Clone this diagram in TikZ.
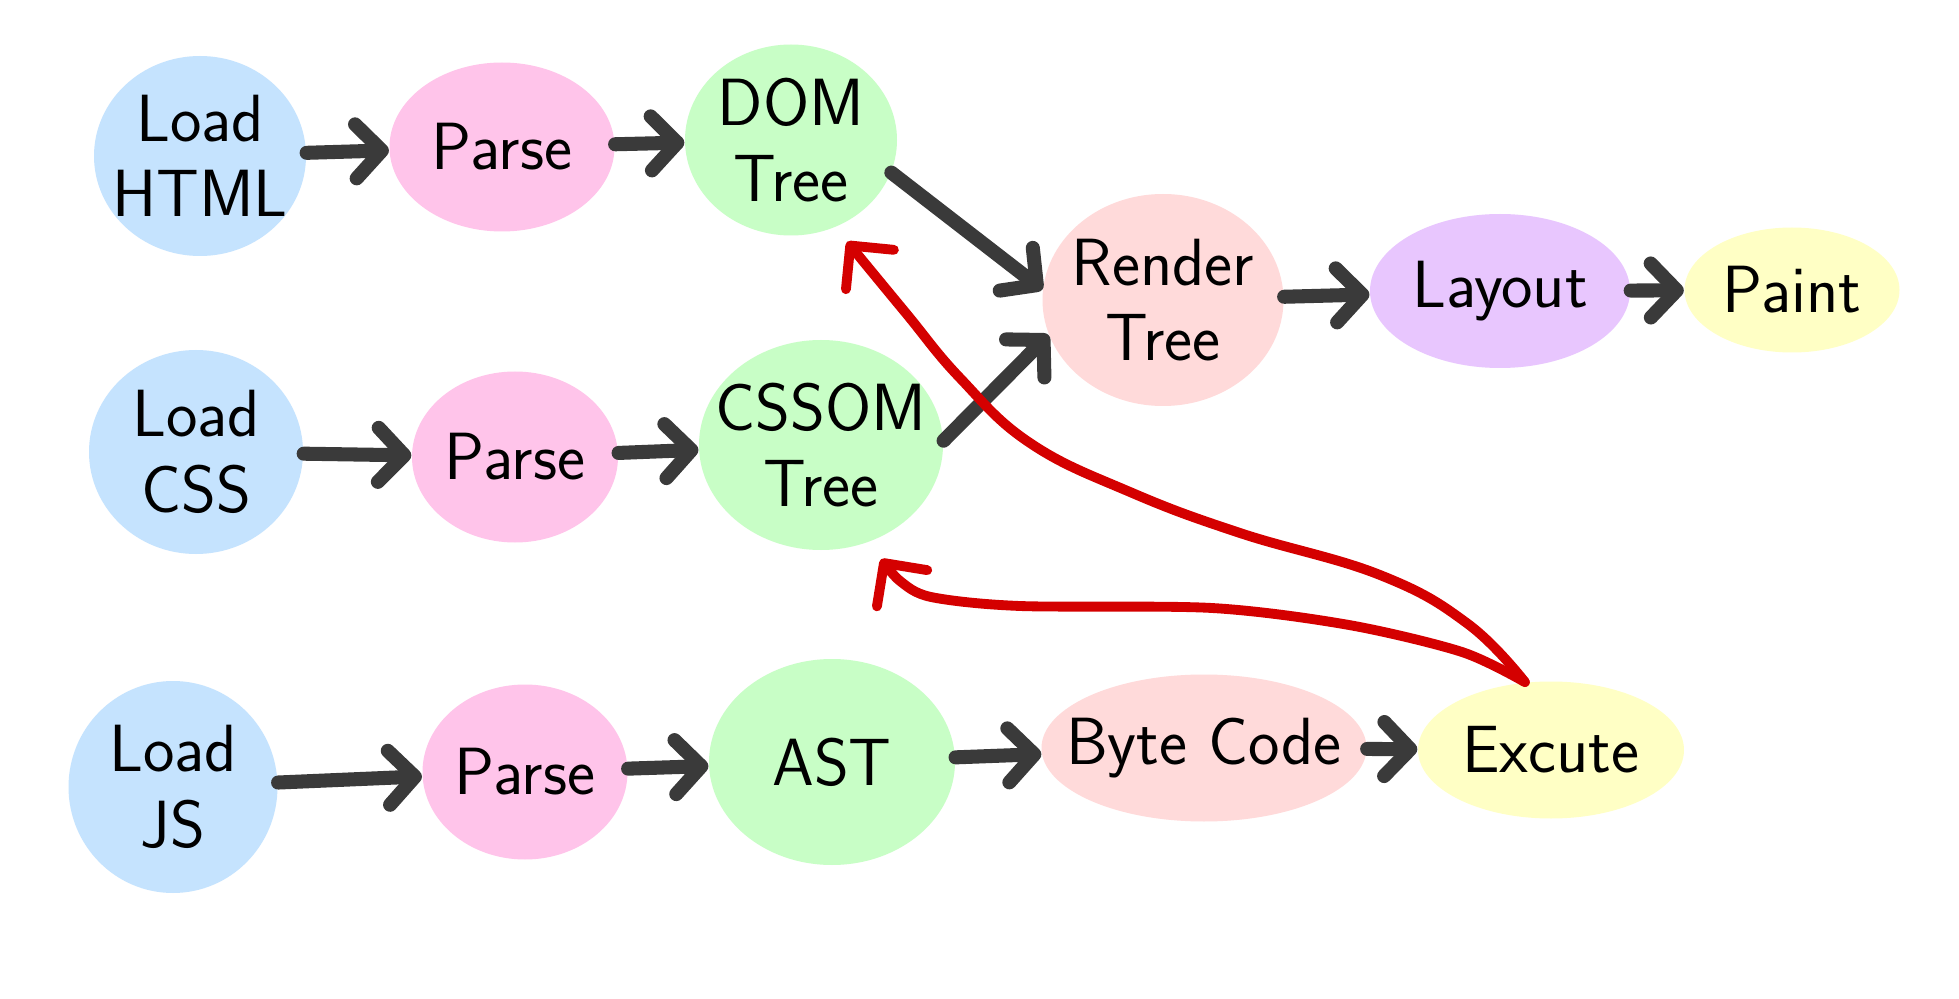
\documentclass[tikz,border=0pt]{standalone}
\usepackage{tikz}
\usetikzlibrary{shapes.geometric,arrows.meta}

\definecolor{loadblue}{HTML}{C5E3FE}
\definecolor{parsepink}{HTML}{FFC4EA}
\definecolor{treegreen}{HTML}{C8FEC6}
\definecolor{rendersalmon}{HTML}{FFDADA}
\definecolor{layoutlilac}{HTML}{E8C6FE}
\definecolor{paintyellow}{HTML}{FFFFC5}
\definecolor{flowgray}{HTML}{3A3A3A}
\definecolor{jsred}{HTML}{D40000}

\tikzset{
	blob/.style={ellipse, inner sep=-2cm, align=center, text=black,
		font=\sffamily\fontsize{19}{21.5}\selectfont},
	flow/.style={draw=flowgray, line width=4pt, line cap=round,
		-{Straight Barb[round,length=2.6mm,width=5.4mm]}},
	jsflow/.style={draw=jsred, line width=2.8pt, line cap=round, line join=round,
		-{Straight Barb[round,length=3.1mm,width=6.2mm]}}
}

\begin{document}
\begin{tikzpicture}

	\useasboundingbox (0,0) rectangle (19.59,-9.99);
	\fill[white] (0,0) rectangle (19.59,-9.99);

	%html row
	\node[blob,fill=loadblue,minimum width=2.12cm,minimum height=2cm]		(lhtml)  at (2.00,-1.56) {Load\\HTML};
	\node[blob,fill=parsepink,minimum width=2.25cm,minimum height=1.69cm]	(phtml)  at (5.02,-1.47) {Parse};
	\node[blob,fill=treegreen,minimum width=2.12cm,minimum height=1.91cm]	(dom)    at (7.91,-1.40) {DOM\\Tree};
	\node[blob,fill=rendersalmon,minimum width=2.41cm,minimum height=2.12cm]	(render) at (11.63,-3.00) {Render\\Tree};
	\node[blob,fill=layoutlilac,minimum width=2.60cm,minimum height=1.54cm]	(layout) at (15.00,-2.91) {Layout};
	\node[blob,fill=paintyellow,minimum width=2.15cm,minimum height=1.25cm]	(paint)  at (17.92,-2.90) {Paint};

	%css row
	\node[blob,fill=loadblue,minimum width=2.14cm,minimum height=2.04cm]		(lcss)   at (1.96,-4.52) {Load\\CSS};
	\node[blob,fill=parsepink,minimum width=2.06cm,minimum height=1.71cm]	(pcss)   at (5.15,-4.57) {Parse};
	\node[blob,fill=treegreen,minimum width=2.44cm,minimum height=2.10cm]	(cssom)  at (8.21,-4.45) {CSSOM\\Tree};

	%js row
	\node[blob,fill=loadblue,minimum width=2.09cm,minimum height=2.12cm]		(ljs)    at (1.73,-7.87) {Load\\JS};
	\node[blob,fill=parsepink,minimum width=2.05cm,minimum height=1.75cm]	(pjs)    at (5.25,-7.72) {Parse};
	\node[blob,fill=treegreen,minimum width=2.46cm,minimum height=2.06cm]	(ast)    at (8.32,-7.62) {AST};
	\node[blob,fill=rendersalmon,minimum width=3.25cm,minimum height=1.47cm]	(bcode)  at (12.04,-7.48) {Byte Code};
	\node[blob,fill=paintyellow,minimum width=2.66cm,minimum height=1.37cm]	(exe)    at (15.51,-7.50) {Excute};

	%gray arrows
	\draw[flow] (lhtml) -- (phtml);
	\draw[flow] (phtml) -- (dom);
	\draw[flow] (dom.-18) -- (render.175);
	\draw[flow] (render) -- (layout);
	\draw[flow] (layout) -- (paint);
	\draw[flow] (lcss) -- (pcss);
	\draw[flow] (pcss) -- (cssom);
	\draw[flow] (cssom.2) -- (render.197);
	\draw[flow] (ljs) -- (pjs);
	\draw[flow] (pjs) -- (ast);
	\draw[flow] (ast) -- (bcode);
	\draw[flow] (bcode) -- (exe);

	%red arrows back from excute, tips just under the trees
	\coordinate (domin)   at ([shift={(0.10,-0.15)}]dom.-62);
	\coordinate (cssomin) at ([shift={(0.09,-0.18)}]cssom.-62);
	\draw[jsflow] plot[smooth,tension=0.7] coordinates {(exe.111) (14.68,-6.24) (13.80,-5.75)
		(12.40,-5.33) (11.30,-4.92) (10.30,-4.43) (9.60,-3.78) (9.05,-3.12) (domin)};
	\draw[jsflow] plot[smooth,tension=0.5] coordinates {(exe.111) (14.62,-6.52) (13.49,-6.25)
		(12.12,-6.08) (10.20,-6.06) (9.31,-5.97) (9.00,-5.81) (cssomin)};

\end{tikzpicture}
\end{document}
